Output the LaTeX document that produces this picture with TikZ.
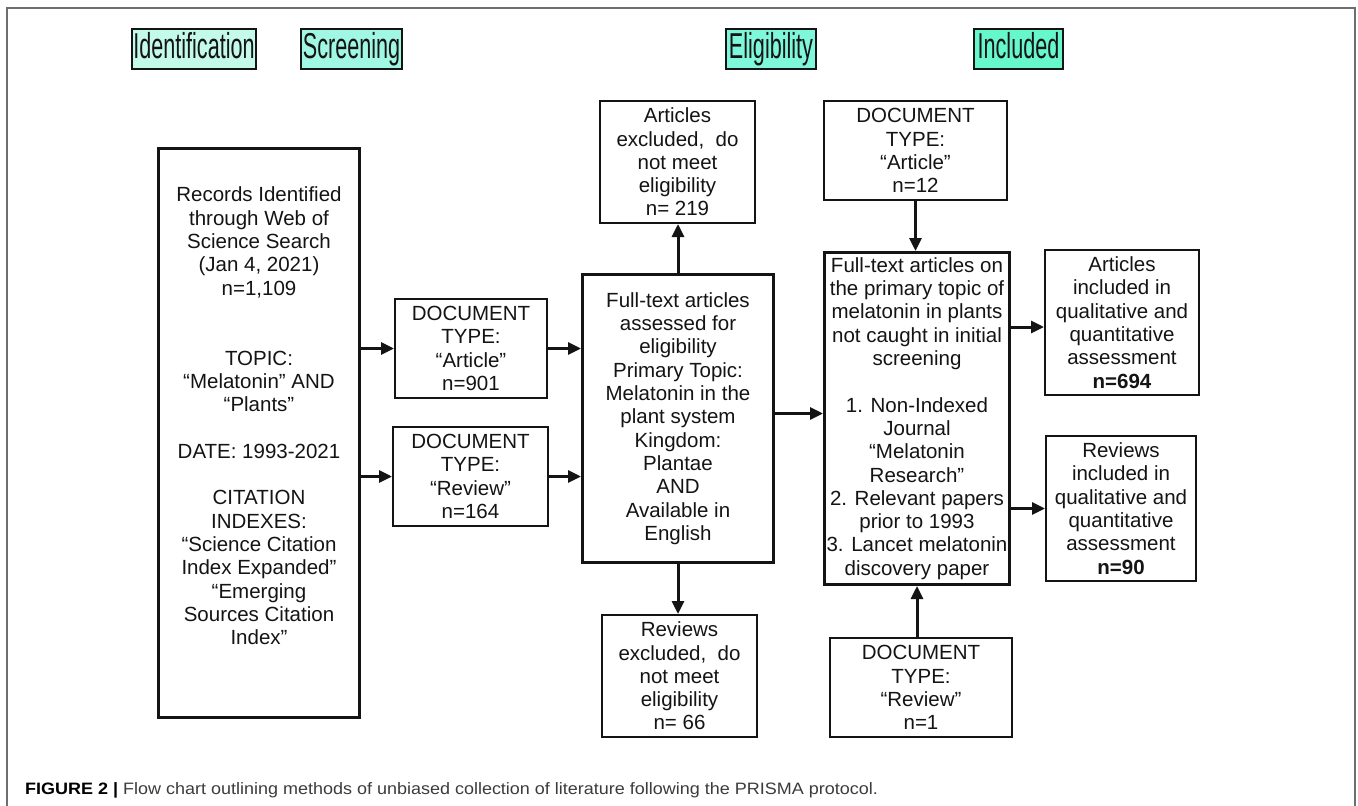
\documentclass[tikz,border=0pt]{standalone}
\usepackage{fontspec}
\setmainfont{Liberation Sans}
\usetikzlibrary{arrows.meta,calc}
\definecolor{hdrA}{HTML}{C4FAEA}
\definecolor{hdrB}{HTML}{A0F7E3}
\definecolor{hdrC}{HTML}{7EF7DA}
\definecolor{hdrD}{HTML}{66F7CB}
\definecolor{ink}{HTML}{141414}
\definecolor{framegray}{HTML}{6E6E6E}
\definecolor{capgray}{HTML}{3C3C3C}
\newcommand\boxfont{\fontsize{20.5}{23.3}\selectfont}
\newcommand\hdrtext[1]{\scalebox{0.6}[1]{\fontsize{36}{40}\selectfont #1}}
\begin{document}
\begin{tikzpicture}[x=1pt,y=-1pt,
  box/.style={draw=ink, line width=2pt, align=center, inner sep=0pt, font=\boxfont, text=ink},
  heavy/.style={box, line width=3pt},
  hdr/.style={draw=ink, line width=1.6pt, inner sep=0pt, minimum height=40pt, text height=26pt, text depth=7.6pt, text=ink},
  arr/.style={draw=ink, line width=3pt, -{Triangle[length=13pt,width=12pt]}},
  txt/.style={align=center, inner sep=0pt, font=\boxfont, text=ink}]
\useasboundingbox (0,0) rectangle (1358,806);
\fill[white] (0,0) rectangle (1358,806);
\draw[framegray, line width=1.5pt] (7,806) -- (7,8) -- (1355,8) -- (1355,806);

% headers
\node[hdr, fill=hdrA, minimum width=124pt] (hid) at (194,49) {\hdrtext{Identification}};
\node[hdr, fill=hdrB, minimum width=101pt] (hsc) at (351.5,49) {\hdrtext{Screening}};
\node[hdr, fill=hdrC, minimum width=90pt] (hel) at (771,49) {\hdrtext{Eligibility}};
\node[hdr, fill=hdrD, minimum width=89pt] (hin) at (1018.5,49) {\hdrtext{Included}};

% boxes
\node[heavy, minimum width=201pt, minimum height=569pt] (rec) at (259,433) {};
\node[txt] (rect) at (259,416) {Records Identified\\through Web of\\Science Search\\(Jan 4, 2021)\\n=1,109\\[46.6pt]TOPIC:\\“Melatonin” AND\\“Plants”\\[23.3pt]DATE: 1993-2021\\[23.3pt]CITATION\\INDEXES:\\“Science Citation\\Index Expanded”\\“Emerging\\Sources Citation\\Index”};
\node[box, minimum width=152pt, minimum height=99pt] (da) at (471,348.5) {DOCUMENT\\TYPE:\\“Article”\\n=901};
\node[box, minimum width=155pt, minimum height=99pt] (dr) at (470.5,476.5) {DOCUMENT\\TYPE:\\“Review”\\n=164};
\node[heavy, minimum width=191pt, minimum height=288pt] (ft) at (678,418.5) {Full-text articles\\assessed for\\eligibility\\Primary Topic:\\Melatonin in the\\plant system\\Kingdom:\\Plantae\\AND\\Available in\\English};
\node[box, minimum width=155pt, minimum height=122pt] (ae) at (677.5,162) {Articles\\excluded,~ do\\not meet\\eligibility\\n= 219};
\node[box, minimum width=155pt, minimum height=122pt] (re) at (679.5,676) {Reviews\\excluded,~ do\\not meet\\eligibility\\n= 66};
\node[box, minimum width=183pt, minimum height=99pt] (d12) at (915.5,150.5) {DOCUMENT\\TYPE:\\“Article”\\n=12};
\node[heavy, minimum width=185pt, minimum height=332pt] (tp) at (917,418.5) {Full-text articles on\\the primary topic of\\melatonin in plants\\not caught in initial\\screening\\[23.3pt]1. Non-Indexed\\Journal\\“Melatonin\\Research”\\2. Relevant papers\\prior to 1993\\3. Lancet melatonin\\discovery paper};
\node[box, minimum width=154pt, minimum height=145pt] (ai) at (1122,322.5) {Articles\\included in\\qualitative and\\quantitative\\assessment\\\textbf{n=694}};
\node[box, minimum width=150pt, minimum height=145pt] (ri) at (1121,508.5) {Reviews\\included in\\qualitative and\\quantitative\\assessment\\\textbf{n=90}};
\node[box, minimum width=182pt, minimum height=99pt] (d1) at (921,687.5) {DOCUMENT\\TYPE:\\“Review”\\n=1};

% connectors
\draw[arr] (rec.east |- da.west) -- (da.west);
\draw[arr] (rec.east |- dr.west) -- (dr.west);
\draw[arr] (da.east) -- (da.east -| ft.west);
\draw[arr] (dr.east) -- (dr.east -| ft.west);
\draw[arr] (ft.north) -- (ft.north |- ae.south);
\draw[arr] (ft.south) -- (ft.south |- re.north);
\coordinate (ftout) at ($(ft.east)+(0,-5)$);
\draw[arr] (ftout) -- (ftout -| tp.west);
\draw[arr] (d12.south) -- (d12.south |- tp.north);
\draw[arr] (tp.south |- d1.north) -- (tp.south);
\coordinate (aiin) at ($(ai.west)+(0,4.5)$);
\draw[arr] (tp.east |- aiin) -- (aiin);
\draw[arr] (tp.east |- ri.west) -- (ri.west);

% caption
\node[anchor=base west, inner sep=0pt] (cap) at (25,794) {\scalebox{1.09}[1]{\fontsize{16.5}{18}\selectfont\textbf{FIGURE 2 |} {\color{capgray}Flow chart outlining methods of unbiased collection of literature following the PRISMA protocol.}}};
\end{tikzpicture}
\end{document}
